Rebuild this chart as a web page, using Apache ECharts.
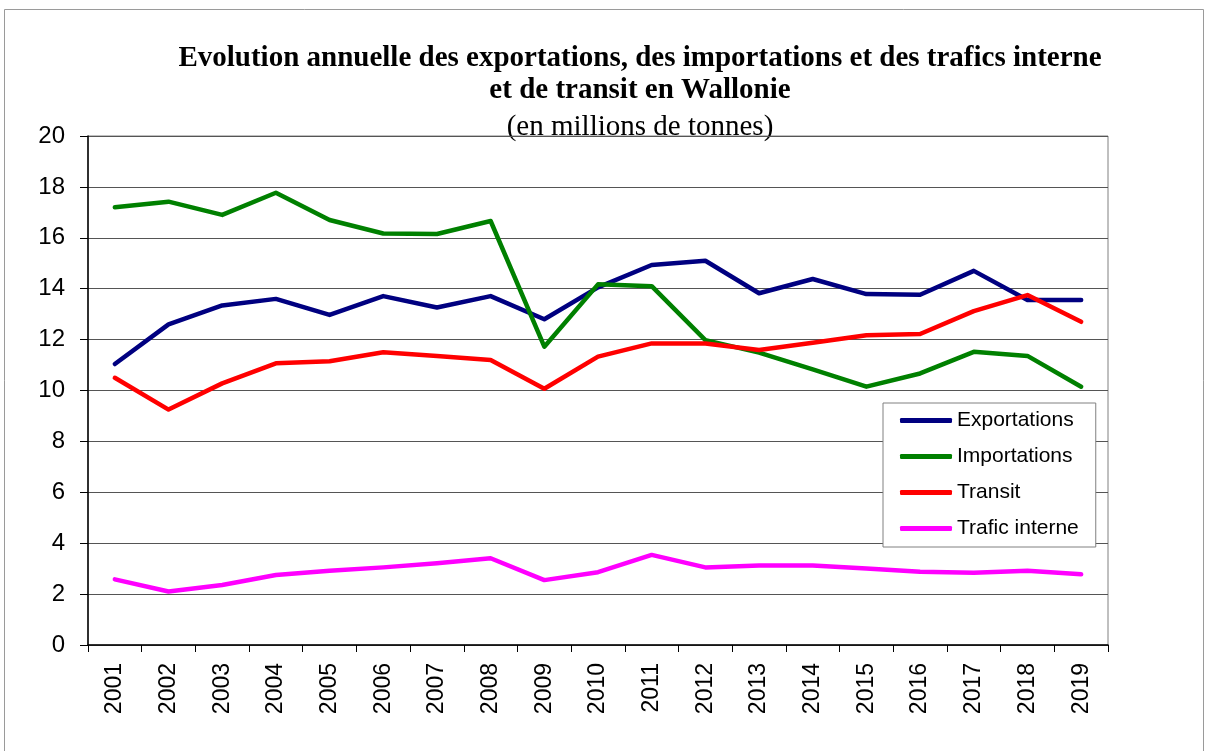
<!DOCTYPE html>
<html>
<head>
<meta charset="utf-8">
<script src="https://cdn.jsdelivr.net/npm/echarts@6/dist/echarts.min.js"></script>
<style>
  html, body { margin: 0; padding: 0; background: #fff; }
  #main { width: 1206px; height: 751px; }
</style>
</head>
<body>
<div id="main"></div>
<script>
var years = ['2001', '2002', '2003', '2004', '2005', '2006', '2007', '2008', '2009', '2010',
  '2011', '2012', '2013', '2014', '2015', '2016', '2017', '2018', '2019']
var exportations = [11.04, 12.6, 13.34, 13.6, 12.97, 13.71, 13.26, 13.71, 12.8, 14.05,
  14.93, 15.1, 13.82, 14.38, 13.79, 13.76, 14.7, 13.56, 13.56]
var importations = [17.2, 17.42, 16.9, 17.77, 16.7, 16.17, 16.15, 16.66, 11.72, 14.17,
  14.1, 11.98, 11.49, 10.83, 10.15, 10.67, 11.52, 11.36, 10.15]
var transit = [10.5, 9.25, 10.28, 11.07, 11.15, 11.5, 11.36, 11.2, 10.07, 11.33,
  11.85, 11.85, 11.59, 11.88, 12.17, 12.22, 13.12, 13.75, 12.7]
var traficInterne = [2.58, 2.1, 2.36, 2.75, 2.92, 3.05, 3.21, 3.41, 2.55, 2.86,
  3.54, 3.05, 3.12, 3.12, 3.01, 2.88, 2.84, 2.92, 2.78]
var yTicks = { min: 0, max: 20, step: 2 }

var myChart = echarts.init(document.getElementById('main'))
var sans = '"Liberation Sans", Arial, sans-serif'
var serif = '"Liberation Serif", "Times New Roman", serif'

function lineSeries (name, color, data) {
  return {
    name: name,
    type: 'line',
    data: data,
    symbol: 'none',
    lineStyle: { color: color, width: 4.5, cap: 'round', join: 'round' },
    itemStyle: { color: color },
    emphasis: { disabled: true }
  }
}

function titleLine (text, y, bold) {
  return {
    type: 'text',
    x: 640,
    y: y,
    style: {
      text: text,
      font: (bold ? 'bold ' : '') + '29px ' + serif,
      fill: '#000',
      textAlign: 'center',
      textVerticalAlign: 'middle'
    }
  }
}

myChart.setOption({
  backgroundColor: '#fff',
  animation: false,
  graphic: [
    {
      type: 'rect',
      shape: { x: 4.5, y: 9.5, width: 1199, height: 760 },
      style: { fill: 'none', stroke: '#9a9a9a', lineWidth: 1 },
      z: -1
    },
    titleLine('Evolution annuelle des exportations, des importations et des trafics interne', 59, true),
    titleLine('et de transit en Wallonie', 91, true),
    titleLine('(en millions de tonnes)', 127, false)
  ],
  legend: {
    orient: 'vertical',
    left: 883,
    top: 403,
    backgroundColor: '#fff',
    borderColor: '#808080',
    borderWidth: 1,
    padding: [7, 17, 8, 17],
    itemWidth: 52,
    itemHeight: 5,
    itemGap: 15,
    icon: 'roundRect',
    textStyle: { fontFamily: sans, fontSize: 21, color: '#000' },
    data: ['Exportations', 'Importations', 'Transit', 'Trafic interne']
  },
  grid: { left: 88, top: 136, width: 1020, height: 509, show: true, borderColor: '#808080', borderWidth: 1 },
  xAxis: {
    type: 'category',
    data: years,
    boundaryGap: true,
    axisLine: { lineStyle: { color: '#000', width: 1.5 } },
    axisTick: { show: true, interval: 0, length: 7, lineStyle: { color: '#000' } },
    axisLabel: { rotate: 90, interval: 0, fontFamily: sans, fontSize: 23, color: '#000', margin: 18 },
    splitLine: { show: false }
  },
  yAxis: {
    type: 'value',
    min: yTicks.min,
    max: yTicks.max,
    interval: yTicks.step,
    axisLine: { show: true, lineStyle: { color: '#000', width: 1.5 } },
    axisTick: { show: true, length: 8, lineStyle: { color: '#000' } },
    axisLabel: { fontFamily: sans, fontSize: 24, color: '#000', margin: 23 },
    splitLine: { lineStyle: { color: '#555', width: 1 } }
  },
  series: [
    lineSeries('Exportations', '#000080', exportations),
    lineSeries('Importations', '#008000', importations),
    lineSeries('Transit', '#ff0000', transit),
    lineSeries('Trafic interne', '#ff00ff', traficInterne)
  ]
})
window.onresize = myChart.resize
</script>
</body>
</html>
